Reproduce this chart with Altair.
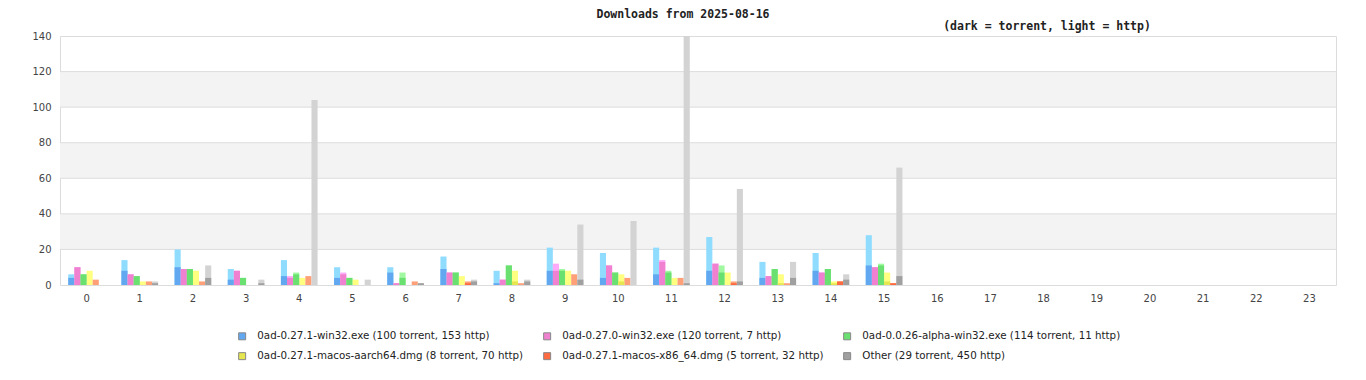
import altair as alt
import pandas as pd

hours = [str(h) for h in range(24)]

series_names = [
    "0ad-0.27.1-win32.exe (100 torrent, 153 http)",
    "0ad-0.27.0-win32.exe (120 torrent, 7 http)",
    "0ad-0.0.26-alpha-win32.exe (114 torrent, 11 http)",
    "0ad-0.27.1-macos-aarch64.dmg (8 torrent, 70 http)",
    "0ad-0.27.1-macos-x86_64.dmg (5 torrent, 32 http)",
    "Other (29 torrent, 450 http)",
]

dark_colors = ["#62a8f0", "#f080d0", "#6ae070", "#e6e650", "#ff6a40", "#a0a0a0"]
light_colors = ["#90dcff", "#ffaaf8", "#a0f8a0", "#ffff80", "#ffa078", "#d3d3d3"]

# torrent (dark) and http (light) downloads per hour, per file
win271_torrent = [4, 8, 10, 3, 5, 4, 7, 9, 1, 8, 4, 6, 8, 4, 8, 11, 0, 0, 0, 0, 0, 0, 0, 0]
win271_http = [2, 6, 10, 6, 9, 6, 3, 7, 7, 13, 14, 15, 19, 9, 10, 17, 0, 0, 0, 0, 0, 0, 0, 0]
win270_torrent = [10, 6, 9, 8, 4, 6, 1, 7, 3, 8, 11, 13, 12, 5, 7, 10, 0, 0, 0, 0, 0, 0, 0, 0]
win270_http = [0, 0, 0, 0, 1, 1, 0, 0, 0, 4, 0, 1, 0, 0, 0, 0, 0, 0, 0, 0, 0, 0, 0, 0]
alpha26_torrent = [6, 5, 9, 4, 6, 4, 4, 7, 11, 8, 7, 7, 7, 9, 9, 11, 0, 0, 0, 0, 0, 0, 0, 0]
alpha26_http = [0, 0, 0, 0, 1, 0, 3, 0, 0, 1, 0, 1, 4, 0, 0, 1, 0, 0, 0, 0, 0, 0, 0, 0]
aarch64_torrent = [0, 0, 0, 0, 0, 0, 0, 0, 2, 0, 2, 0, 0, 1, 1, 2, 0, 0, 0, 0, 0, 0, 0, 0]
aarch64_http = [8, 2, 8, 0, 4, 3, 0, 5, 6, 8, 4, 4, 7, 5, 1, 5, 0, 0, 0, 0, 0, 0, 0, 0]
x86_torrent = [0, 0, 0, 0, 0, 0, 0, 1, 0, 0, 0, 0, 1, 0, 2, 1, 0, 0, 0, 0, 0, 0, 0, 0]
x86_http = [3, 2, 2, 0, 5, 0, 2, 1, 1, 6, 4, 4, 1, 1, 0, 0, 0, 0, 0, 0, 0, 0, 0, 0]
other_torrent = [0, 1, 4, 1, 0, 0, 1, 2, 2, 3, 0, 1, 2, 4, 3, 5, 0, 0, 0, 0, 0, 0, 0, 0]
other_http = [0, 1, 7, 2, 104, 3, 0, 1, 1, 31, 36, 139, 52, 9, 3, 61, 0, 0, 0, 0, 0, 0, 0, 0]

torrents = [win271_torrent, win270_torrent, alpha26_torrent, aarch64_torrent, x86_torrent, other_torrent]
https = [win271_http, win270_http, alpha26_http, aarch64_http, x86_http, other_http]

y_ticks = [0, 20, 40, 60, 80, 100, 120, 140]
band_lo = [20, 60, 100]
band_hi = [40, 80, 120]
grid_vals = [20, 40, 60, 80, 100, 120]

title_text = "Downloads from 2025-08-16"
subtitle_text = "(dark = torrent, light = http)"

rows = []
for name, dc, lc, tor, htt in zip(series_names, dark_colors, light_colors, torrents, https):
    for h, t, p in zip(hours, tor, htt):
        rows.append({"hour": h, "series": name, "torrent": t, "total": t + p, "lc": lc})
df = pd.DataFrame(rows)

W, H = 1276, 249

x_enc = alt.X(
    "hour:O",
    scale=alt.Scale(domain=hours, paddingInner=0.31, paddingOuter=0.155),
    axis=alt.Axis(labelAngle=0, title=None, ticks=False, domain=False, labelPadding=8,
                  labelFontSize=10, labelColor="#444444", labelFont="DejaVu Sans", grid=False),
)
xo_enc = alt.XOffset("series:N", scale=alt.Scale(domain=series_names, paddingInner=0, paddingOuter=0))
y_scale = alt.Scale(domain=[0, 140], nice=False, zero=True)
y_axis = alt.Axis(values=y_ticks, tickCount=8, title=None, grid=False, ticks=False, domain=False,
                  labelPadding=9, labelFontSize=10, labelColor="#444444", labelFont="DejaVu Sans",
                  labelOverlap=False)

bands = alt.Chart(pd.DataFrame({"lo": band_lo, "hi": band_hi})).mark_rect(color="#f3f3f3").encode(
    y=alt.Y("lo:Q", scale=y_scale, axis=y_axis),
    y2="hi:Q",
    x=alt.value(0),
    x2=alt.value(W),
)

grid = alt.Chart(pd.DataFrame({"v": grid_vals})).mark_rule(color="#dddddd", strokeWidth=1).encode(
    y=alt.Y("v:Q", scale=y_scale, axis=y_axis),
    x=alt.value(0),
    x2=alt.value(W),
)

light = alt.Chart(df).mark_bar().encode(
    x=x_enc,
    xOffset=xo_enc,
    y=alt.Y("total:Q", scale=y_scale, axis=y_axis),
    color=alt.Color("lc:N", scale=None),
).transform_filter("datum.total > 0")

dark = alt.Chart(df).mark_bar().encode(
    x=x_enc,
    xOffset=xo_enc,
    y=alt.Y("torrent:Q", scale=y_scale, axis=y_axis),
    color=alt.Color(
        "series:N",
        scale=alt.Scale(domain=series_names, range=dark_colors),
        legend=alt.Legend(
            orient="none", legendX=177, legendY=295, direction="horizontal", columns=3,
            title=None, symbolType="square", symbolSize=49, symbolStrokeColor="#888888",
            symbolStrokeWidth=1, labelFont="DejaVu Sans", labelFontSize=10.3, labelColor="#222222",
            columnPadding=17, rowPadding=8, labelOffset=10, labelLimit=500, padding=0,
        ),
    ),
).transform_filter("datum.torrent > 0")

title = alt.Chart(pd.DataFrame({"t": [title_text]})).mark_text(
    font="DejaVu Sans Mono", fontWeight="bold", fontSize=11.5, color="#222222", align="center", baseline="middle"
).encode(text="t:N", x=alt.value(623), y=alt.value(-21))

subtitle = alt.Chart(pd.DataFrame({"t": [subtitle_text]})).mark_text(
    font="DejaVu Sans Mono", fontWeight="bold", fontSize=11.5, color="#222222", align="center", baseline="middle"
).encode(text="t:N", x=alt.value(987), y=alt.value(-9))

chart = alt.layer(bands, grid, light, dark, title, subtitle).properties(
    width=W, height=H,
    autosize=alt.AutoSizeParams(type="none"),
    padding={"left": 52, "top": 28, "right": 22, "bottom": 87},
).configure_view(stroke="#dcdcdc", strokeWidth=1).configure_axisY(labelOverlap=False)

chart.save("out.html", embed_options={"renderer": "svg", "actions": False})
